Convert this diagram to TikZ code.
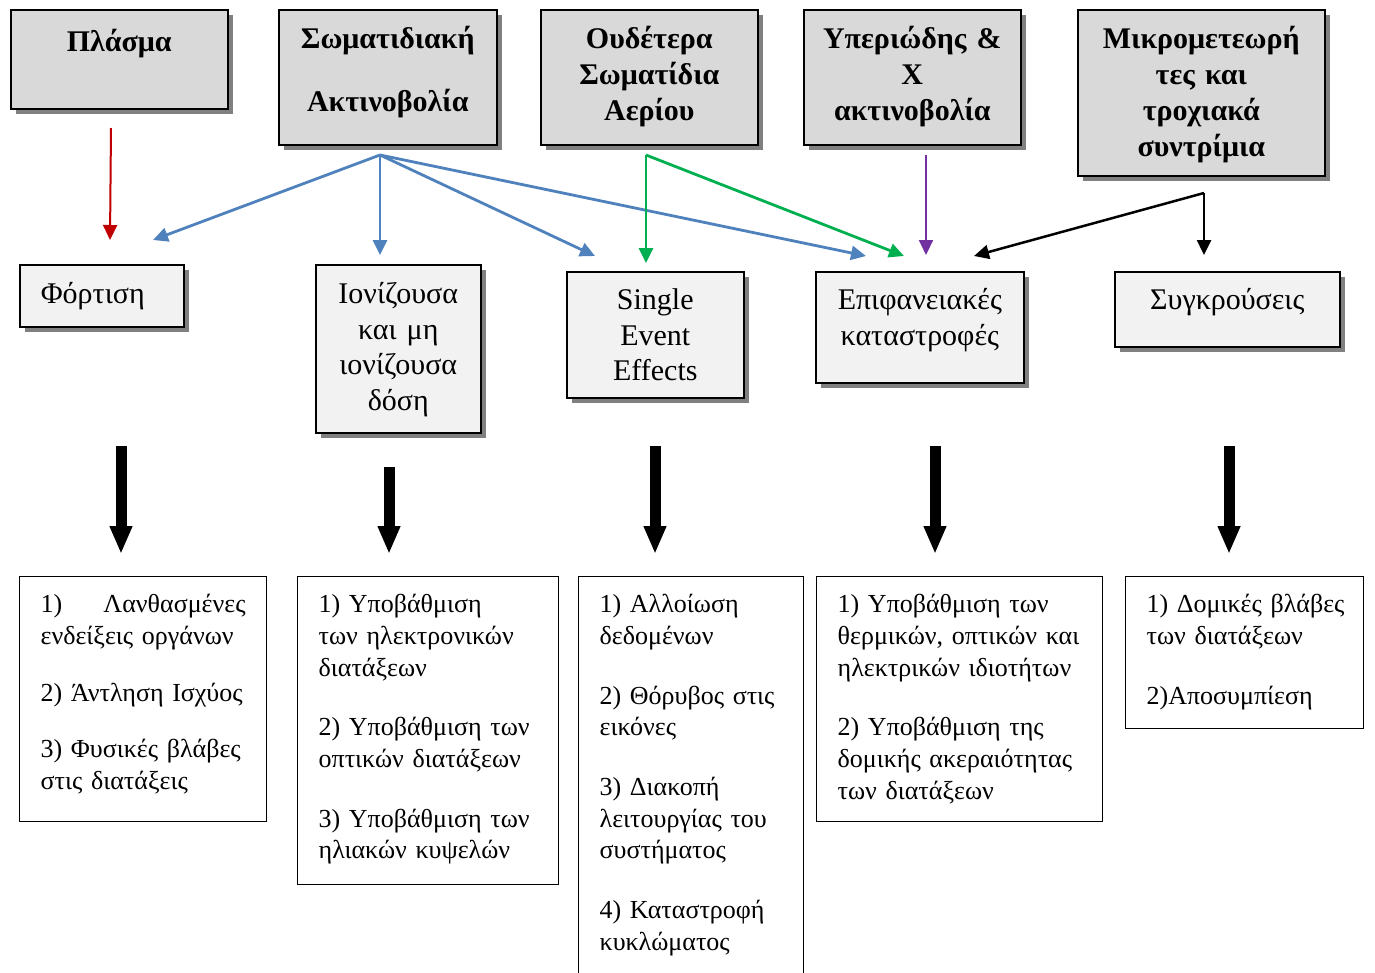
\documentclass[tikz,border=0pt]{standalone}
\usepackage{fontspec}
\setmainfont{Liberation Serif}
\usepackage{tikz}
\usetikzlibrary{arrows.meta,positioning,shadows}
\definecolor{srcgray}{HTML}{D9D9D9}
\definecolor{effgray}{HTML}{F2F2F2}
\definecolor{shgray}{HTML}{808080}
\definecolor{plred}{HTML}{C00000}
\definecolor{pblue}{HTML}{4F81BD}
\definecolor{ngreen}{HTML}{00B050}
\definecolor{uvpurple}{HTML}{7030A0}

\begin{document}
\begin{tikzpicture}[x=1pt,y=-1pt,>={Triangle[length=15pt,width=14pt]},
  srcbox/.style={draw,line width=1.6pt,fill=srcgray,anchor=north west,align=center,inner xsep=4pt,inner ysep=0pt,
    font=\bfseries\fontsize{30}{36}\selectfont,drop shadow={shadow xshift=5pt,shadow yshift=-5pt,fill=shgray,opacity=1}},
  effbox/.style={srcbox,fill=effgray,font=\fontsize{30}{35.5}\selectfont},
  resbox/.style={draw,line width=1.3pt,fill=white,anchor=north west,align=left,inner xsep=21pt,inner ysep=0pt,
    text height=36pt,font=\fontsize{26}{31.7}\selectfont},
  bigarrow/.style={-{Triangle[length=28pt,width=21pt]},line width=11pt},
  link/.style={->,line width=#1},link/.default=2.8pt]
\useasboundingbox (0,0) rectangle (1375,972);

\node[srcbox,text width=209pt,text height=42pt,text depth=57pt] (plasma) at (10,9) {Πλάσμα};
\node[srcbox,text width=210pt,text height=39pt,text depth=96pt] (partrad) at (278,9) {Σωματιδιακή\\[27pt]Ακτινοβολία};
\node[srcbox,text width=209pt,text height=39pt,text depth=96pt] (neutral) at (540,9) {Ουδέτερα\\Σωματίδια\\Αερίου};
\node[srcbox,text width=209pt,text height=39pt,text depth=96pt] (uvx) at (803,9) {Υπεριώδης \&\\X\\ακτινοβολία};
\node[srcbox,text width=239pt,text height=39pt,text depth=127pt] (micro) at (1077,9) {Μικρομετεωρή\\τες και\\τροχιακά\\συντρίμια};

\node[effbox,align=left,inner xsep=21pt,text width=122pt,text height=39pt,text depth=23pt] (charge) at (19,264) {Φόρτιση};
\node[effbox,text width=157pt,text height=39pt,text depth=129pt] (dose) at (315,264) {Ιονίζουσα\\και μη\\ιονίζουσα\\δόση};
\node[effbox,text width=169pt,text height=38pt,text depth=88pt] (see) at (566,271) {Single\\Event\\Effects};
\node[effbox,text width=200pt,text height=38pt,text depth=73pt] (surface) at (815,271) {Επιφανειακές\\καταστροφές};
\node[effbox,text width=217pt,text height=38pt,text depth=37pt] (impact) at (1114,271) {Συγκρούσεις};

\node[resbox,text width=205pt,text depth=209pt] (res1) at (19,576) {1)\hfill Λανθασμένες\\ενδείξεις~οργάνων\\[25pt]2)~Άντληση~Ισχύος\\[25pt]3)~Φυσικές~βλάβες\\στις~διατάξεις};
\node[resbox,text width=219pt,text depth=272pt] (res2) at (297,576) {1)~Υποβάθμιση\\των~ηλεκτρονικών\\διατάξεων\\[28pt]2)~Υποβάθμιση~των\\οπτικών~διατάξεων\\[28pt]3)~Υποβάθμιση~των\\ηλιακών~κυψελών};
\node[resbox,text width=183pt,text depth=378pt] (res3) at (578,576) {1)~Αλλοίωση\\δεδομένων\\[28pt]2)~Θόρυβος~στις\\εικόνες\\[28pt]3)~Διακοπή\\λειτουργίας~του\\συστήματος\\[28pt]4)~Καταστροφή\\κυκλώματος};
\node[resbox,text width=244pt,text depth=209pt] (res4) at (816,576) {1)~Υποβάθμιση~των\\θερμικών,~οπτικών~και\\ηλεκτρικών~ιδιοτήτων\\[28pt]2)~Υποβάθμιση~της\\δομικής~ακεραιότητας\\των~διατάξεων};
\node[resbox,text width=196pt,text depth=116pt] (res5) at (1125,576) {1)~Δομικές~βλάβες\\των~διατάξεων\\[28pt]2)Αποσυμπίεση};

\coordinate (plasma-o) at (111,128);
\coordinate (charge-i) at (110,240);
\coordinate (partrad-o) at (380,155);
\coordinate (charge-b) at (153,240);
\coordinate (dose-i) at (380,255);
\coordinate (see-b) at (595,256);
\coordinate (surface-b) at (866,256);
\coordinate (neutral-o) at (646,155);
\coordinate (see-g) at (646,263);
\coordinate (surface-g) at (904,256);
\coordinate (uvx-o) at (926,155);
\coordinate (surface-p) at (926,255);
\coordinate (micro-o) at (1204,193);
\coordinate (surface-k) at (974,256);
\coordinate (impact-i) at (1204,255);

\draw[link=2pt,plred] (plasma-o) -- (charge-i);
\draw[link,pblue] (partrad-o) -- (charge-b);
\draw[link,pblue] (partrad-o) -- (dose-i);
\draw[link,pblue] (partrad-o) -- (see-b);
\draw[link,pblue] (partrad-o) -- (surface-b);
\draw[link,ngreen] (neutral-o) -- (see-g);
\draw[link,ngreen] (neutral-o) -- (surface-g);
\draw[link=2pt,uvpurple] (uvx-o) -- (surface-p);
\draw[link=2.5pt] (micro-o) -- (surface-k);
\draw[link=2.5pt] (micro-o) -- (impact-i);

\coordinate (charge-o) at (121,446);
\coordinate (res1-i) at (121,554);
\coordinate (dose-o) at (389,467);
\coordinate (res2-i) at (389,554);
\coordinate (see-o) at (655,446);
\coordinate (res3-i) at (655,554);
\coordinate (surface-o) at (935,446);
\coordinate (res4-i) at (935,554);
\coordinate (impact-o) at (1229,446);
\coordinate (res5-i) at (1229,554);

\draw[bigarrow] (charge-o) -- (res1-i);
\draw[bigarrow] (dose-o) -- (res2-i);
\draw[bigarrow] (see-o) -- (res3-i);
\draw[bigarrow] (surface-o) -- (res4-i);
\draw[bigarrow] (impact-o) -- (res5-i);
\end{tikzpicture}
\end{document}
